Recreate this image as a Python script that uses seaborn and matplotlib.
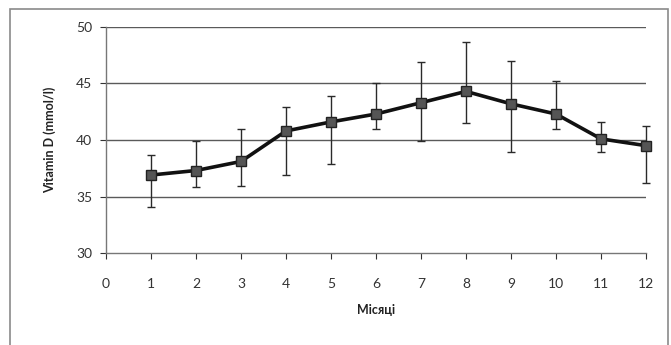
import numpy as np
import pandas as pd
import matplotlib
matplotlib.use("Agg")
import matplotlib.pyplot as plt
import seaborn as sns
from matplotlib.patches import Rectangle

sns.set_style("white")
plt.rcParams['font.family'] = ['Lato', 'DejaVu Sans']

# Data
months = [1, 2, 3, 4, 5, 6, 7, 8, 9, 10, 11, 12]
vitamin_d = [36.9, 37.3, 38.1, 40.8, 41.6, 42.3, 43.3, 44.3, 43.2, 42.3, 40.1, 39.5]
upper = [38.7, 39.9, 41.0, 42.9, 43.9, 45.0, 46.9, 48.7, 47.0, 45.2, 41.6, 41.2]
lower = [34.1, 35.8, 35.9, 36.9, 37.9, 41.0, 39.9, 41.5, 38.9, 41.0, 38.9, 36.2]
x_ticks = [0, 1, 2, 3, 4, 5, 6, 7, 8, 9, 10, 11, 12]
y_ticks = [30, 35, 40, 45, 50]

df = pd.DataFrame({'month': months, 'vitd': vitamin_d,
                   'upper': upper, 'lower': lower})

fig = plt.figure(figsize=(6.71, 3.45), dpi=100)
ax = fig.add_axes([106 / 671, 1 - 253 / 345, 540 / 671, 226 / 345])

# outer chart frame
fig.patches.append(Rectangle((10 / 671, -0.05), 658 / 671, 1.05 - 9 / 345,
                             transform=fig.transFigure, fill=False,
                             edgecolor='#8a8a8a', linewidth=1.2))

for y in y_ticks[1:]:
    ax.axhline(y, color='#5a5a5a', linewidth=1.0, zorder=1)

yerr = np.array([df['vitd'] - df['lower'], df['upper'] - df['vitd']])
eb = ax.errorbar(df['month'], df['vitd'], yerr=yerr, fmt='none', ecolor='#2a2a2a',
                 elinewidth=1.0, capsize=3, capthick=1.0, zorder=2)
for artist in eb.lines[1] + eb.lines[2]:
    artist.set_clip_on(False)
sns.lineplot(data=df, x='month', y='vitd', ax=ax, color='#111111',
             linewidth=2.6, marker='s', markersize=7,
             markerfacecolor='#555555', markeredgecolor='#222222',
             markeredgewidth=1.0, zorder=3, clip_on=False)

ax.set_xlim(0, 12)
ax.set_ylim(30, 50)
ax.set_xticks(x_ticks)
ax.set_yticks(y_ticks)
ax.tick_params(axis='both', labelsize=10, colors='#333333', length=4,
               direction='out', width=0.8)
ax.tick_params(axis='x', pad=14)
ax.tick_params(axis='y', pad=6)
ax.xaxis.set_ticks_position('bottom')
ax.yaxis.set_ticks_position('left')

for s in ['top', 'right']:
    ax.spines[s].set_visible(False)
for s in ['left', 'bottom']:
    ax.spines[s].set_color('#777777')
    ax.spines[s].set_linewidth(1.0)

ax.set_xlabel('Місяці', fontsize=9, fontweight='bold', color='#222222', labelpad=10)
ax.set_ylabel('Vitamin D (mmol/l)', fontsize=9, fontweight='bold', color='#222222', labelpad=14)

fig.savefig('out.png', dpi=100)
